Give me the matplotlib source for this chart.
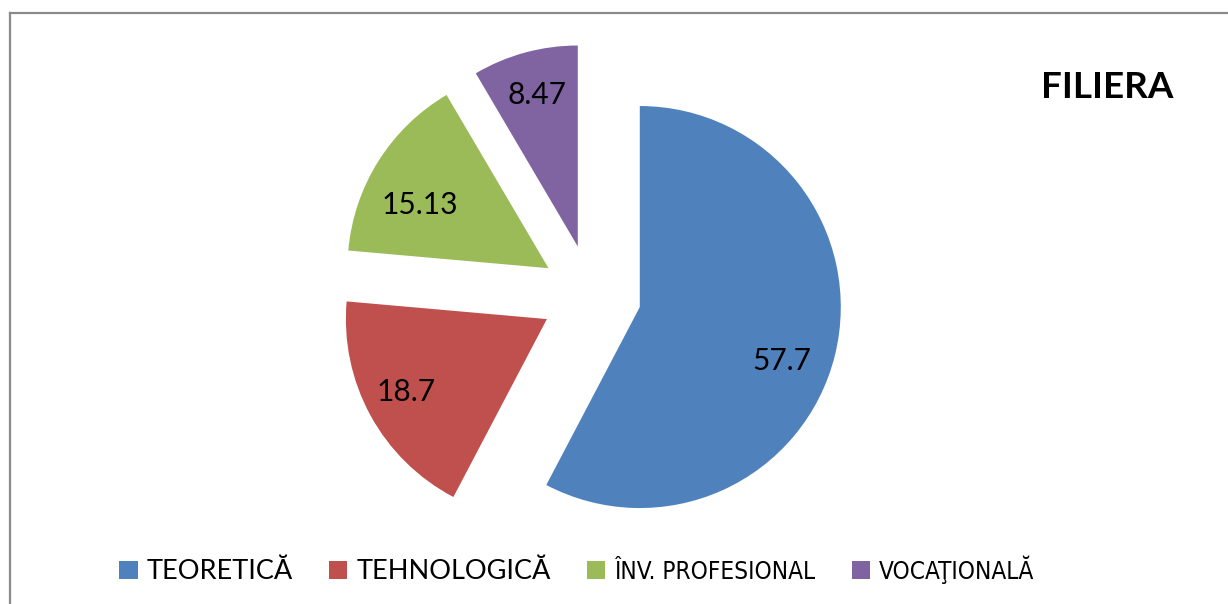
import matplotlib
matplotlib.use("Agg")
import matplotlib.pyplot as plt
from matplotlib.lines import Line2D
import matplotlib.transforms as mtransforms

categories = ["TEORETICĂ", "TEHNOLOGICĂ", "ÎNV. PROFESIONAL", "VOCAŢIONALĂ"]
values = [57.7, 18.7, 15.13, 8.47]
value_labels = ["57.7", "18.7", "15.13", "8.47"]
colors = ["#4F81BD", "#C0504D", "#9BBB59", "#8064A2"]
title = "FILIERA"

FONT = ["Lato", "DejaVu Sans"]
plt.rcParams['font.family'] = FONT

W, H = 1228, 604
fig = plt.figure(figsize=(W / 100, H / 100), dpi=100)

# pie geometry in pixels
cx, cy, R = 591, 295, 201
L = 1.3
side = 2 * L * R
ax = fig.add_axes([(cx - side / 2) / W, (H - cy - side / 2) / H, side / W, side / H])
wedges, texts = ax.pie(values, colors=colors, startangle=90, counterclock=False,
                       explode=[0.25] * len(values), labels=value_labels,
                       labeldistance=0.78, wedgeprops=dict(linewidth=0),
                       textprops=dict(fontsize=21.5, color="black"))
# small nudges (pixels, x right / y down) to mimic the original label placement
label_nudge = [(-10, 16), (-3, -2), (4, 21), (0, 0)]
for t, (dx, dy) in zip(texts, label_nudge):
    t.set_ha("center")
    t.set_va("center")
    t.set_transform(t.get_transform() +
                    mtransforms.ScaledTranslation(dx / 100, -dy / 100, fig.dpi_scale_trans))
ax.set_xlim(-L, L)
ax.set_ylim(-L, L)
ax.axis("off")

fig.text(1173 / W, 1 - 87 / H, title, ha="right", va="center",
         fontsize=26.5, fontweight="bold", color="black")

leg = fig.legend(wedges, categories, loc="center", ncol=4,
                 bbox_to_anchor=(577 / W, 1 - 570 / H), frameon=False,
                 fontsize=19.5, handlelength=0.67, handleheight=0.67,
                 handletextpad=0.33, columnspacing=1.35, borderpad=0)
for t in leg.get_texts()[2:]:
    t.set_fontfamily(["DejaVu Sans"])
    t.set_fontstretch("condensed")
    t.set_fontsize(17.5)

# chart border (left and top visible)
fig.add_artist(Line2D([9.5 / W, 9.5 / W], [0, 1 - 12.5 / H], transform=fig.transFigure,
                      color="#8a8a8a", lw=1.6))
fig.add_artist(Line2D([9.5 / W, 1], [1 - 12.5 / H, 1 - 12.5 / H], transform=fig.transFigure,
                      color="#8a8a8a", lw=1.6))

fig.savefig("out.png", dpi=100)
